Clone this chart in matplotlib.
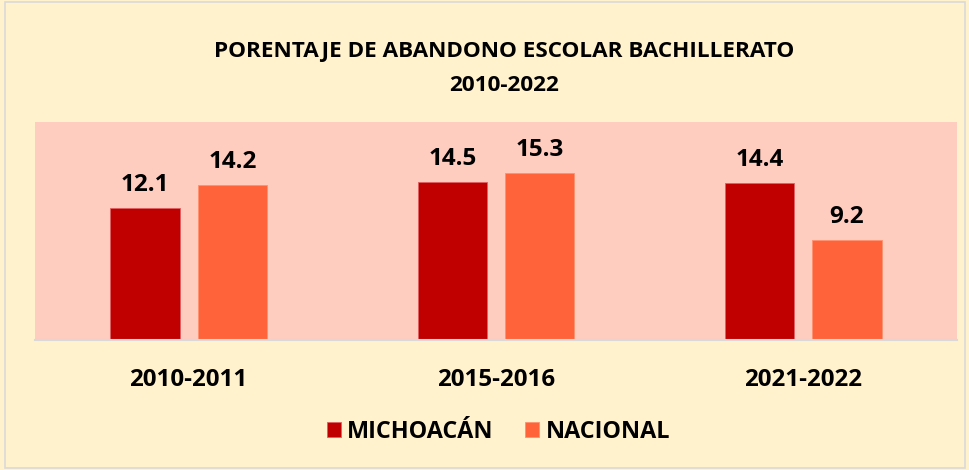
import numpy as np
import matplotlib.pyplot as plt
from matplotlib.patches import Rectangle

periodos = ['2010-2011', '2015-2016', '2021-2022']
michoacan = [12.1, 14.5, 14.4]
nacional = [14.2, 15.3, 9.2]

plt.rcParams['font.family'] = ['Open Sans', 'DejaVu Sans']

fig = plt.figure(figsize=(9.7, 4.7), dpi=100, facecolor='#FFF2CC')
fig.patches.append(Rectangle((0.005, 0.005), 0.99, 0.99, transform=fig.transFigure,
                             fill=False, edgecolor='#D9D9D9', lw=1.2))
ax = fig.add_axes([35 / 970, 1 - 340 / 470, 922 / 970, 218 / 470])
ax.set_facecolor('#FFCCC0')

x = np.arange(len(periodos))
w = 0.225
off = 0.142
b1 = ax.bar(x - off, michoacan, w, color='#C00000', edgecolor='#E06060', lw=0.6, label='MICHOACÁN')
b2 = ax.bar(x + off, nacional, w, color='#FF6339', edgecolor='#FF9070', lw=0.6, label='NACIONAL')
for bars in (b1, b2):
    ax.bar_label(bars, fmt='%.1f', padding=8, fontsize=17.5, fontweight='bold')

ax.set_xlim(-0.5, 2.5)
ax.set_ylim(0, 20)
ax.set_yticks([])
ax.set_xticks(x, periodos, fontsize=17.4, fontweight='bold')
ax.tick_params(axis='x', length=0, pad=20)
for s in ['top', 'left', 'right']:
    ax.spines[s].set_visible(False)
ax.spines['bottom'].set_color('#D9D9D9')
ax.spines['bottom'].set_linewidth(1.5)

fig.text(0.52, 1 - 52 / 470, 'PORENTAJE DE ABANDONO ESCOLAR BACHILLERATO', ha='center', va='center',
         fontsize=16.2, fontweight='bold')
fig.text(0.52, 1 - 86 / 470, '2010-2022', ha='center', va='center', fontsize=16.2, fontweight='bold')

fig.legend(loc='center', bbox_to_anchor=(0.514, 1 - 432 / 470), ncol=2, frameon=False,
           prop={'size': 16.8, 'weight': 'bold'}, handlelength=0.6, handleheight=0.6,
           columnspacing=1.35, handletextpad=0.28)

fig.savefig('out.png', dpi=100, facecolor=fig.get_facecolor())
